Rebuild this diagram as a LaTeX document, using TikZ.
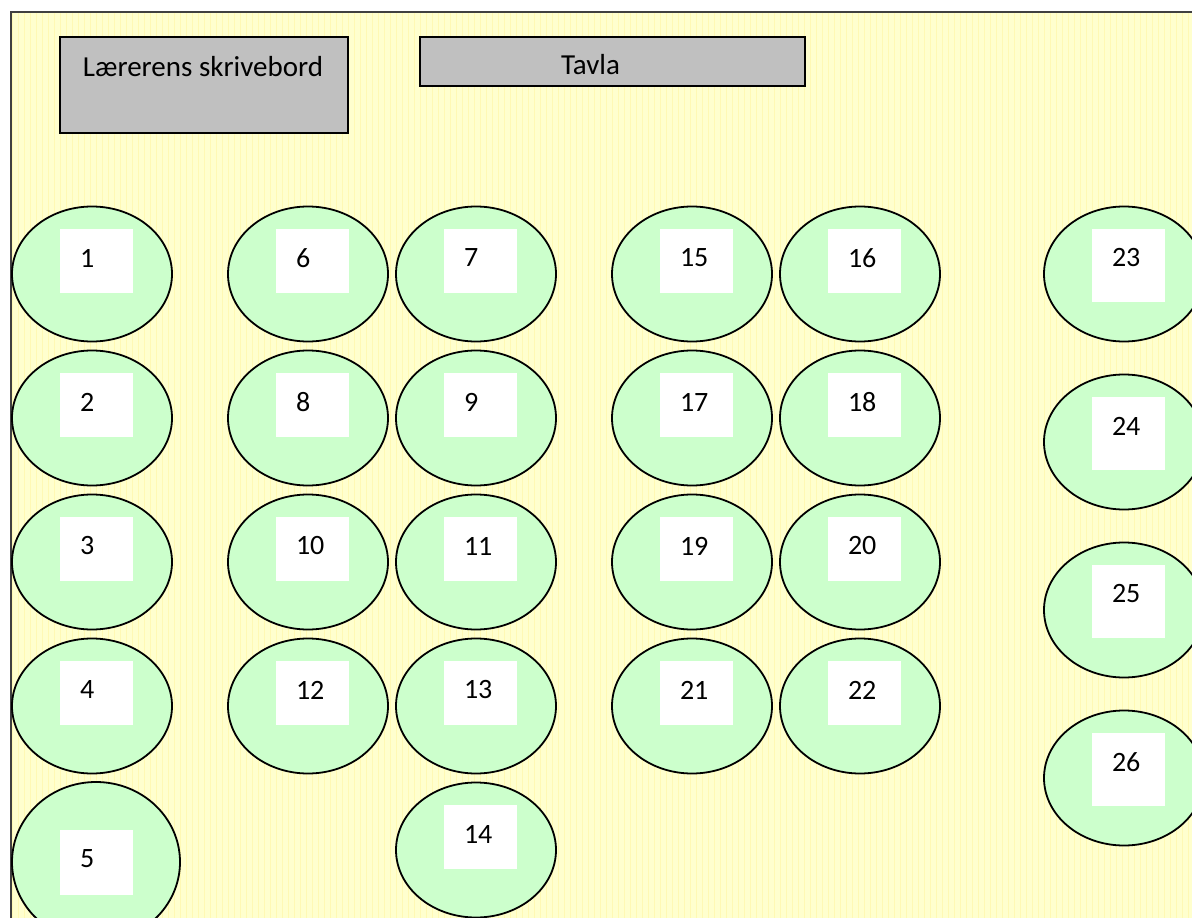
\documentclass[tikz,border=0pt]{standalone}
\usepackage{fontspec}
\setmainfont{Carlito}
\usepackage{tikz}
\usetikzlibrary{shapes.geometric,positioning}
\definecolor{roomyellow}{HTML}{FFFFCE}
\definecolor{gridyellow}{HTML}{FFF9B4}
\definecolor{seatgreen}{HTML}{CCFFCC}
\definecolor{deskgray}{HTML}{C0C0C0}
\definecolor{framegray}{HTML}{404040}
% one seat: ellipse, white card and its number
\newcommand{\seat}[4][64]{%
  \node[seat] (s#2) at (#3,#4) {};
  \node[seatbox, minimum height=#1] (b#2) at ([shift={(4.5,-45)}]s#2.center) {};
  \node[seatnum] (n#2) at ([shift={(20,29)}]b#2.north west) {#2};
}

\begin{document}
\begin{tikzpicture}[x=1pt,y=-1pt,
  seat/.style={ellipse, draw=black, line width=1.8pt, fill=seatgreen,
    minimum width=160, minimum height=135, inner sep=0},
  seatbox/.style={fill=white, minimum width=73, inner sep=0, anchor=north},
  seatnum/.style={anchor=west, inner sep=0, font=\fontsize{28}{32}\selectfont},
  desk/.style={draw=black, line width=1.8pt, fill=deskgray, inner sep=0},
  desklabel/.style={anchor=base, inner sep=0, font=\fontsize{29}{34}\selectfont}]
\useasboundingbox (0,0) rectangle (1192,918);
\clip (0,0) rectangle (1192,918);
\fill[white] (0,0) rectangle (1192,918);
\draw[framegray, line width=2pt, fill=roomyellow] (11,12) rectangle (1260,980);
\draw[gridyellow, line width=0.4pt, step=6] (12,13) grid (1192,918);

\node[desk, minimum width=288, minimum height=96] (larer) at (204,85) {};
\node[desklabel] (larertekst) at ([shift={(-1,40)}]larer.north) {Lærerens skrivebord};
\node[desk, minimum width=385, minimum height=49] (tavla) at (612.5,61.5) {};
\node[desklabel] (tavlatekst) at ([shift={(-22,38)}]tavla.north) {Tavla};

\seat{1}{92}{274}
\seat{2}{92}{418}
\seat{3}{92}{562}
\seat{4}{92}{706}
\node[seat, minimum width=168, minimum height=160] (s5) at (96,862) {};
\node[seatbox, minimum height=65] (b5) at (96.5,830) {};
\node[seatnum] (n5) at ([shift={(20,29)}]b5.north west) {5};

\seat{6}{308}{274}
\seat{8}{308}{418}
\seat{10}{308}{562}
\seat{12}{308}{706}

\seat{7}{476}{274}
\seat{9}{476}{418}
\seat{11}{476}{562}
\seat{13}{476}{706}
\seat{14}{476}{850}

\seat{15}{692}{274}
\seat{17}{692}{418}
\seat{19}{692}{562}
\seat{21}{692}{706}

\seat{16}{860}{274}
\seat{18}{860}{418}
\seat{20}{860}{562}
\seat{22}{860}{706}

\seat[73]{23}{1124}{274}
\seat[73]{24}{1124}{442}
\seat[73]{25}{1124}{610}
\seat[73]{26}{1124}{778}
\end{tikzpicture}
\end{document}
